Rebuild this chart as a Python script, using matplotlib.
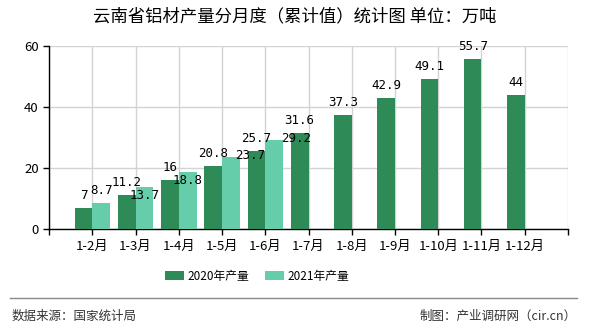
import matplotlib.pyplot as plt
import numpy as np

plt.rcParams['font.family'] = ['Noto Sans CJK SC', 'DejaVu Sans']

months = ["1-2月", "1-3月", "1-4月", "1-5月", "1-6月", "1-7月",
          "1-8月", "1-9月", "1-10月", "1-11月", "1-12月"]
# 2021 has only data through 1-6
v2020 = [7, 11.2, 16, 20.8, 25.7, 31.6, 37.3, 42.9, 49.1, 55.7, 44]
v2021 = [8.7, 13.7, 18.8, 23.7, 29.2]
# label offsets (pts) for the 2021 labels, as placed in the original
off2021 = [(0, 9), (0, -6), (0, -6), (14, 1), (16, 1)]

c2020 = "#2e8b57"
c2021 = "#66cdaa"

fig = plt.figure(figsize=(5.9, 3.3), dpi=100)
ax = fig.add_axes([0.0831, 0.3052, 0.8796, 0.5554])

x = np.arange(1, len(months) + 1)
w = 0.41
ax.bar(x - w / 2, v2020, width=w, color=c2020, label="2020年产量", zorder=3)
x21 = x[:len(v2021)]
ax.bar(x21 + w / 2, v2021, width=w, color=c2021, label="2021年产量", zorder=3)

for xi, v in zip(x, v2020):
    ax.annotate(f"{v:g}", (xi - w / 2, v), xytext=(0, 9), textcoords="offset points",
                ha="center", va="center", fontsize=9, family="DejaVu Sans Mono", zorder=4)
for xi, v, o in zip(x21, v2021, off2021):
    ax.annotate(f"{v:g}", (xi + w / 2, v), xytext=o, textcoords="offset points",
                ha="center", va="center", fontsize=9, family="DejaVu Sans Mono", zorder=4)

ax.set_xlim(0, 12)
ax.set_ylim(0, 60)
ax.set_yticks([0, 20, 40, 60])
ax.set_xticks(np.arange(0, 13))
ax.set_xticklabels([""] + months + [""])
ax.tick_params(axis="both", labelsize=9.5, length=4, color="black", width=1)
ax.grid(True, color="#d3d3d3", linewidth=1, zorder=0)
for s in ["top", "right"]:
    ax.spines[s].set_visible(False)
ax.spines["left"].set_linewidth(1)
ax.spines["bottom"].set_linewidth(1)

fig.text(0.5, 0.95, "云南省铝材产量分月度（累计值）统计图 单位：万吨",
         ha="center", va="center", fontsize=12.5)

fig.legend(loc="center", bbox_to_anchor=(0.436, 0.163), ncol=2, frameon=False,
           fontsize=8.5, handlelength=1.6, handleheight=0.7, columnspacing=1.3,
           handletextpad=0.3)

fig.add_artist(plt.Line2D([0.017, 0.978], [0.097, 0.097], color="#888888", linewidth=1))
fig.text(0.02, 0.042, "数据来源：国家统计局", ha="left", va="center", fontsize=9, color="#333333")
fig.text(0.978, 0.042, "制图：产业调研网（cir.cn）", ha="right", va="center", fontsize=9, color="#333333")

fig.savefig("out.png", dpi=100)
